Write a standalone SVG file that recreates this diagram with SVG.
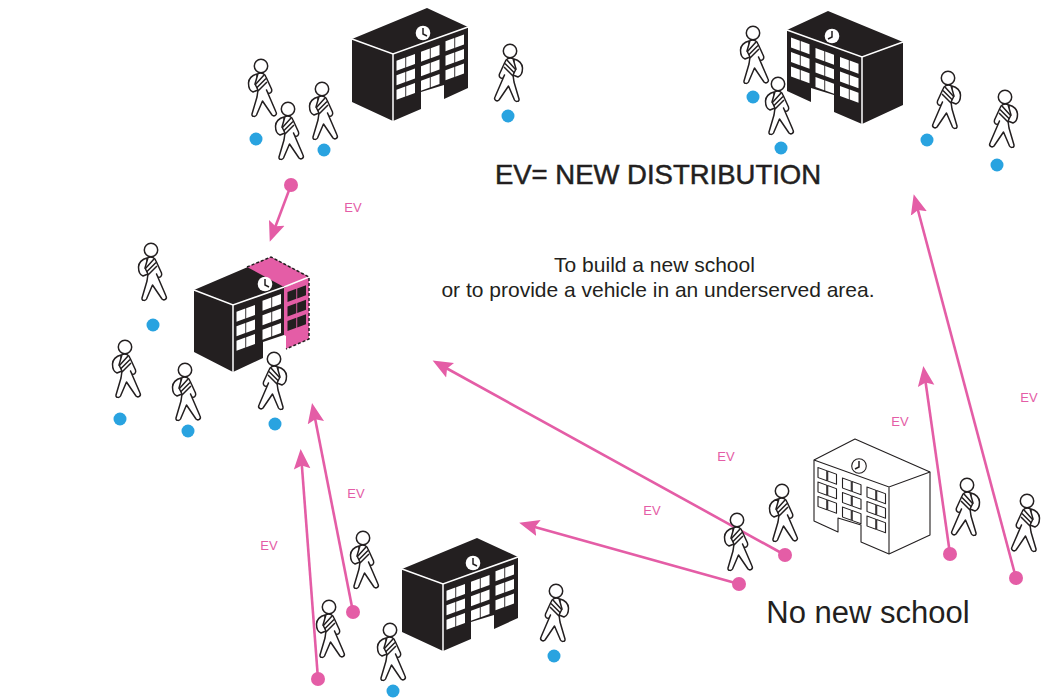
<svg xmlns="http://www.w3.org/2000/svg" width="1049" height="700" viewBox="0 0 1049 700">
<style>
.lbl{font-family:"Liberation Sans",Arial,sans-serif}
.ev{fill:#e45da6;font-size:13px;text-anchor:middle}
.link{stroke:#e45da6;stroke-width:2.6;fill:none;marker-end:url(#ah)}
.pd{fill:#e45da6}
.bd{fill:#29a3e0}
.p{fill:#fff;stroke:#231f20;stroke-width:1.500;stroke-linejoin:round}
.k{fill:#231f20}
.w{fill:#fff}
.o{fill:#fff;stroke:#231f20;stroke-width:1.100;stroke-linejoin:round}
.wl{stroke:#fff;stroke-width:1.500;fill:none}
.ol{stroke:#231f20;stroke-width:1.100;fill:none}
</style>
<defs>
<marker id="ah" markerUnits="userSpaceOnUse" markerWidth="22" markerHeight="18" refX="15" refY="9" orient="auto" viewBox="0 0 22 18"><path d="M0,0.700 L20,9 L0,17.300 L3.500,9 Z" fill="#e45da6"/></marker>
<g id="person">
<path class="p" d="M-4,8 C-9,9 -12.500,13 -12.500,17 C-12.500,21 -11,25 -8,26 L-3,24 Z"/>
<path class="p" d="M-3,7.500 C1,6 4,8 5,11 L10.500,23 C11.500,26 9,28 7,27 L5.500,24 L15,46 C16.500,49 13,51 11,49 L1.500,35 L-4.500,49 C-5.500,51 -9.500,51 -9,48 L-4,31 L-3,24 L-6,18 Z"/>
<path class="p" d="M-6,19 L3,9 M-4.500,22 L5,12.500 M-3,25 L6,16" fill="none"/>
<circle class="p" cx="0" cy="0" r="6.700"/>
</g>
<g id="panes"><rect x="3.500" y="8" width="8.800" height="10" transform="skewY(-20)"/><rect x="13.200" y="8" width="8.800" height="10" transform="skewY(-20)"/></g>
<g id="col"><use href="#panes"/><use href="#panes" y="14.500"/><use href="#panes" y="29"/></g>
<g id="clock"><circle cx="30" cy="-21" r="7.300" fill="#fff"/><path d="M30,-26 L30,-20 L34,-18" fill="none" stroke="#231f20" stroke-width="1.500"/></g>
<g id="school-black">
<path class="k" d="M-41,-15 L34,-46 L75,-27 L75,34 L51,45 L51,31 L28,38 L28,55 L0,67 L-41,48 Z"/>
<path class="wl" d="M-41,-15 L0,0 L75,-27 M0,0 L0,67"/>
<g class="w"><use href="#col"/><use href="#col" x="24.500" y="-9"/><use href="#col" x="49" y="-19.500"/></g>
<use href="#clock"/>
</g>
<g id="school-white">
<path class="o" d="M-41,-15 L34,-48 L75,-27 L75,34 L51,45 L51,31 L28,38 L28,55 L0,67 L-41,48 Z"/>
<path class="ol" d="M-41,-15 L0,0 L75,-27 M0,0 L0,67"/>
<g class="o"><use href="#col"/><use href="#col" x="24.500" y="-9"/><use href="#col" x="49" y="-19.500"/></g>
<circle class="ol" cx="30" cy="-21" r="7.300"/>
<path d="M30,-26 L30,-20 L34,-18" fill="none" stroke="#231f20" stroke-width="1.500"/>
</g>
</defs>

<g id="connectors">
<path class="link" d="M291,185 L271.500,237"/>
<path class="link" d="M785,555 L437,363"/>
<path class="link" d="M739,584 L524,524"/>
<path class="link" d="M950,554 L924,371"/>
<path class="link" d="M1016,578 L915,199"/>
<path class="link" d="M353,612 L313,408"/>
<path class="link" d="M318,679 L301,454"/>
<circle class="pd" cx="291" cy="185" r="7"/>
<circle class="pd" cx="785" cy="555" r="7"/>
<circle class="pd" cx="739" cy="584" r="7"/>
<circle class="pd" cx="950" cy="554" r="7"/>
<circle class="pd" cx="1016" cy="578" r="7"/>
<circle class="pd" cx="353" cy="612" r="7"/>
<circle class="pd" cx="318" cy="679" r="7"/>
</g>

<g id="school-top-left"><use href="#school-black" transform="translate(393,54)"/></g>
<g id="school-top-right"><use href="#school-black" transform="translate(862,57) scale(-1,1)"/></g>
<g id="school-bottom"><use href="#school-black" transform="translate(443,584)"/></g>
<g id="school-none"><use href="#school-white" transform="translate(889,487) scale(-1,1)"/></g>
<g id="school-extended" transform="translate(233,305)">
<path class="k" d="M-39,-15 L38,-48 L76,-28 L53,-18 L51,30 L30,37 L30,53 L0,67 L-39,47 Z"/>
<path class="wl" d="M-39,-15 L0,0 L51,-18 M0,0 L0,67"/>
<g class="w"><use href="#col"/><use href="#col" x="26" y="-11"/></g>
<path d="M14,-38 L38,-48 L76,-28 L51,-18 Z" fill="#e45da6"/>
<path d="M51,-17 L76,-28 L76,34 L53,44 L53,31 L51,30 Z" fill="#e45da6"/>
<path d="M51,-18 L76,-28" class="wl"/>
<path d="M14,-38 L38,-48 L76,-28 L76,34 L53,44" fill="none" stroke="#231f20" stroke-width="1.500" stroke-dasharray="3 2"/>
<g class="k"><use href="#col" x="51" y="-19.700"/></g>
<use href="#clock" x="2"/>
</g>

<g id="student-1"><use href="#person" transform="translate(261,66)"/></g>
<g id="student-2"><use href="#person" transform="translate(288,109)"/></g>
<g id="student-3"><use href="#person" transform="translate(322,89)"/></g>
<g id="student-4"><use href="#person" transform="translate(510,51) scale(-1,1)"/></g>
<g id="student-5"><use href="#person" transform="translate(753,33)"/></g>
<g id="student-6"><use href="#person" transform="translate(778,84)"/></g>
<g id="student-7"><use href="#person" transform="translate(948,78) scale(-1,1)"/></g>
<g id="student-8"><use href="#person" transform="translate(1005,97) scale(-1,1)"/></g>
<g id="student-9"><use href="#person" transform="translate(151,250)"/></g>
<g id="student-10"><use href="#person" transform="translate(125,347)"/></g>
<g id="student-11"><use href="#person" transform="translate(185,370)"/></g>
<g id="student-12"><use href="#person" transform="translate(274,359) scale(-1,1)"/></g>
<g id="student-13"><use href="#person" transform="translate(363,538)"/></g>
<g id="student-14"><use href="#person" transform="translate(329,607)"/></g>
<g id="student-15"><use href="#person" transform="translate(390,630)"/></g>
<g id="student-16"><use href="#person" transform="translate(556,591) scale(-1,1)"/></g>
<g id="student-17"><use href="#person" transform="translate(782,491)"/></g>
<g id="student-18"><use href="#person" transform="translate(737,520)"/></g>
<g id="student-19"><use href="#person" transform="translate(967,485) scale(-1,1)"/></g>
<g id="student-20"><use href="#person" transform="translate(1027,501) scale(-1,1)"/></g>

<g id="dots">
<circle class="bd" cx="256" cy="139" r="6.500"/><circle class="bd" cx="324" cy="150" r="6.500"/><circle class="bd" cx="508" cy="116" r="6.500"/>
<circle class="bd" cx="753" cy="97" r="6.500"/><circle class="bd" cx="781" cy="148" r="6.500"/><circle class="bd" cx="927" cy="140" r="6.500"/><circle class="bd" cx="997" cy="165" r="6.500"/>
<circle class="bd" cx="153" cy="325" r="6.500"/><circle class="bd" cx="120" cy="419" r="6.500"/><circle class="bd" cx="188" cy="431" r="6.500"/><circle class="bd" cx="275" cy="424" r="6.500"/>
<circle class="bd" cx="393" cy="691" r="6.500"/><circle class="bd" cx="554" cy="656" r="6.500"/>
</g>

<g id="labels" class="lbl">
<text class="lbl ev" x="353" y="212">EV</text>
<text class="lbl ev" x="269" y="550">EV</text>
<text class="lbl ev" x="356" y="498">EV</text>
<text class="lbl ev" x="726" y="461">EV</text>
<text class="lbl ev" x="652" y="515">EV</text>
<text class="lbl ev" x="900" y="426">EV</text>
<text class="lbl ev" x="1029" y="402">EV</text>
<text class="lbl" x="658" y="184" text-anchor="middle" font-size="27.500" fill="#231f20" stroke="#231f20" stroke-width="0.500">EV= NEW DISTRIBUTION</text>
<text class="lbl" x="654.500" y="272" text-anchor="middle" font-size="21" fill="#231f20">To build a new school</text>
<text class="lbl" x="658" y="297" text-anchor="middle" font-size="21" fill="#231f20">or to provide a vehicle in an underserved area.</text>
<text class="lbl" x="868" y="623" text-anchor="middle" font-size="31" fill="#231f20">No new school</text>
</g>
</svg>
